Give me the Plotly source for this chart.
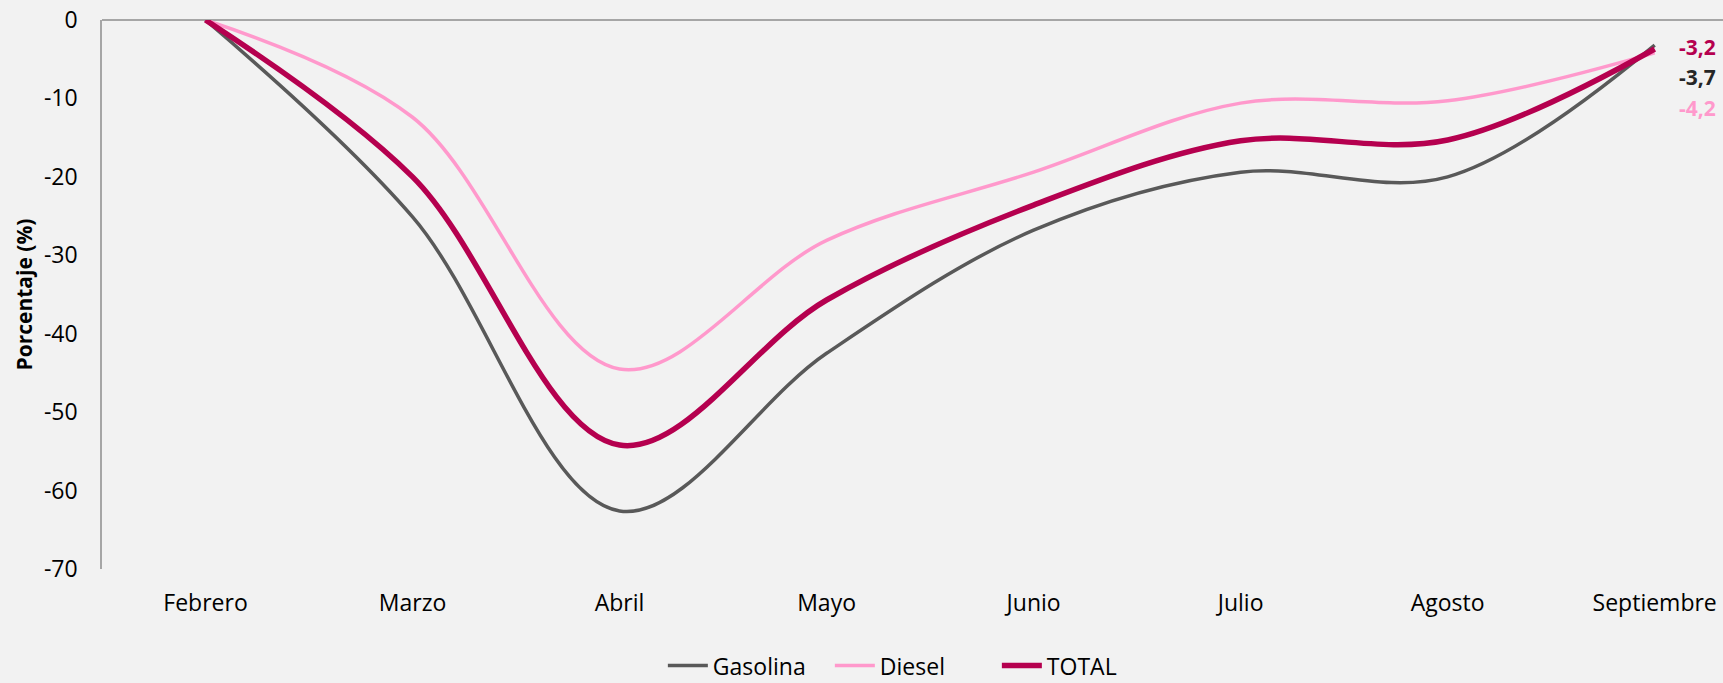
import plotly.graph_objects as go

meses = ["Febrero", "Marzo", "Abril", "Mayo", "Junio", "Julio", "Agosto", "Septiembre"]
gasolina = [0, -25.1, -62.6, -42.5, -26.8, -19.4, -20.0, -3.2]
diesel = [0, -12.4, -44.5, -28.1, -19.4, -10.6, -10.3, -4.2]
total = [0, -20.0, -54.2, -35.7, -23.6, -15.4, -15.3, -3.7]

end_label_values = [-3.2, -3.7, -4.2]
end_label_colors = ["#B5004F", "#262626", "#FF99CC"]
end_label_yshift = [-2, -28, -55]

y_ticks = [0, -10, -20, -30, -40, -50, -60, -70]
y_tick_text = [str(v) for v in y_ticks]

C_GAS = "#595959"
C_DIE = "#FF99CC"
C_TOT = "#B5004F"
BG = "#F2F2F2"
FONT = "Open Sans"

fig = go.Figure()
fig.add_trace(go.Scatter(x=meses, y=gasolina, name="Gasolina", mode="lines",
                         line=dict(color=C_GAS, width=3.5, shape="spline", smoothing=1.0)))
fig.add_trace(go.Scatter(x=meses, y=diesel, name="Diesel", mode="lines",
                         line=dict(color=C_DIE, width=3.5, shape="spline", smoothing=1.0)))
fig.add_trace(go.Scatter(x=meses, y=total, name="TOTAL", mode="lines",
                         line=dict(color=C_TOT, width=5.5, shape="spline", smoothing=1.0)))

for v, c, ys in zip(end_label_values, end_label_colors, end_label_yshift):
    fig.add_annotation(x=meses[-1], y=v, text=("%.1f" % v).replace(".", ","),
                       showarrow=False, xanchor="left", yanchor="middle",
                       xshift=22, yshift=ys,
                       font=dict(family=FONT, size=21, color=c, weight="bold"))

fig.update_layout(
    width=1723, height=683,
    paper_bgcolor=BG, plot_bgcolor=BG,
    margin=dict(l=102, r=0, t=20, b=114, autoexpand=False),
    font=dict(family=FONT, size=23, color="#000000"),
    showlegend=True,
    legend=dict(orientation="h", x=0.346, xanchor="left", y=-0.176, yanchor="middle",
                font=dict(family=FONT, size=23, color="#000000"),
                bgcolor="rgba(0,0,0,0)", itemwidth=40, tracegroupgap=0,
                entrywidth=112, entrywidthmode="pixels"),
    xaxis=dict(range=[-0.5, 7.33], showgrid=False, showline=False, zeroline=False,
               ticks="", ticklabelstandoff=18, automargin=False,
               tickfont=dict(family=FONT, size=23, color="#000000")),
    yaxis=dict(range=[-70, 0], tickvals=y_ticks, ticktext=y_tick_text, showgrid=False,
               showline=True, linecolor="#A6A6A6", linewidth=1.5,
               zeroline=True, zerolinecolor="#A6A6A6", zerolinewidth=1.5,
               ticks="", ticklabelstandoff=18, automargin=False,
               tickfont=dict(family=FONT, size=23, color="#000000"),
               title=dict(text="<b>Porcentaje (%)</b>", standoff=6,
                          font=dict(family=FONT, size=21, color="#000000"))),
)

fig.write_html(
    "out.html",
    config={"displayModeBar": False},
    post_script="document.body.style.margin='0';document.body.style.overflow='hidden';"
                "document.body.style.background='#F2F2F2';",
)
